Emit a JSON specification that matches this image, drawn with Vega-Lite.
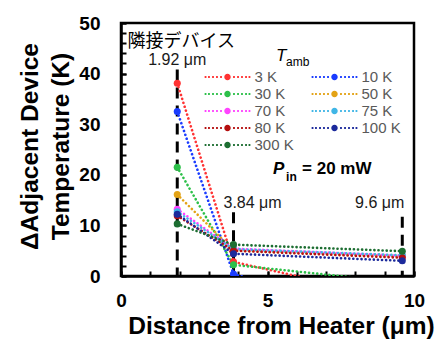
{
  "$schema": "https://vega.github.io/schema/vega-lite/v6.json",
  "width": 293,
  "height": 253,
  "autosize": "none",
  "padding": {"left": 121, "top": 23, "right": 30, "bottom": 65},
  "background": "white",
  "config": {
    "view": {"stroke": null},
    "font": "Liberation Sans",
    "axis": {"labelOverlap": false, "grid": false, "labelFlush": false}
  },
  "resolve": {"axis": {"x": "independent", "y": "independent"}},
  "datasets": {
    "temps": [
      {"T": "3 K", "d": 1.92, "v": 38.1}, {"T": "3 K", "d": 3.84, "v": 2.8}, {"T": "3 K", "d": 9.6, "v": -4.7},
      {"T": "10 K", "d": 1.92, "v": 32.5}, {"T": "10 K", "d": 3.84, "v": 0.4}, {"T": "10 K", "d": 9.6, "v": -8.8},
      {"T": "30 K", "d": 1.92, "v": 21.5}, {"T": "30 K", "d": 3.84, "v": 2.2}, {"T": "30 K", "d": 9.6, "v": -1.3},
      {"T": "50 K", "d": 1.92, "v": 16.1}, {"T": "50 K", "d": 3.84, "v": 5.1}, {"T": "50 K", "d": 9.6, "v": 3.9},
      {"T": "70 K", "d": 1.92, "v": 13.2}, {"T": "70 K", "d": 3.84, "v": 5.4}, {"T": "70 K", "d": 9.6, "v": 4.0},
      {"T": "75 K", "d": 1.92, "v": 12.7}, {"T": "75 K", "d": 3.84, "v": 5.3}, {"T": "75 K", "d": 9.6, "v": 4.1},
      {"T": "80 K", "d": 1.92, "v": 11.9}, {"T": "80 K", "d": 3.84, "v": 5.0}, {"T": "80 K", "d": 9.6, "v": 3.6},
      {"T": "100 K", "d": 1.92, "v": 12.2}, {"T": "100 K", "d": 3.84, "v": 4.4}, {"T": "100 K", "d": 9.6, "v": 3.0},
      {"T": "300 K", "d": 1.92, "v": 10.3}, {"T": "300 K", "d": 3.84, "v": 6.2}, {"T": "300 K", "d": 9.6, "v": 4.9}
    ],
    "markers": [
      {"d": 1.92, "top": 40.8},
      {"d": 3.84, "top": 12.6},
      {"d": 9.6, "top": 11.7}
    ]
  },
  "layer": [
    {
      "data": {"name": "markers"},
      "mark": {"type": "rule", "color": "black", "strokeWidth": 3, "strokeDash": [11, 7]},
      "encoding": {
        "x": {
          "field": "d", "type": "quantitative",
          "scale": {"domain": [0, 10], "nice": false},
          "axis": {
            "orient": "bottom",
            "values": [0, 5, 10],
            "title": "Distance from Heater (μm)",
            "titleFont": "Liberation Sans", "titleFontSize": 24.5, "titleFontWeight": "bold", "titleColor": "black",
            "titleX": 160, "titleY": 57, "titleAlign": "center", "titleBaseline": "alphabetic",
            "labelFont": "Liberation Sans", "labelFontSize": 19, "labelFontWeight": "bold", "labelColor": "black",
            "labelPadding": 20, "labelFlush": false, "labelOverlap": false,
            "tickSize": -5, "tickWidth": 2, "tickColor": "black",
            "domainColor": "black", "domainWidth": 2.5, "grid": false
          }
        },
        "y": {
          "field": "top", "type": "quantitative",
          "scale": {"domain": [0, 50], "nice": false},
          "axis": {
            "orient": "left",
            "values": [0, 10, 20, 30, 40, 50],
            "title": ["ΔAdjacent Device", "Temperature (K)"],
            "titleFont": "Liberation Sans", "titleFontSize": 24.5, "titleFontWeight": "bold", "titleColor": "black",
            "titleLineHeight": 31, "titleAngle": 270,
            "titleX": -84, "titleY": 123, "titleAlign": "center", "titleBaseline": "alphabetic",
            "labelFont": "Liberation Sans", "labelFontSize": 19, "labelFontWeight": "bold", "labelColor": "black",
            "labelPadding": 26, "labelOverlap": false,
            "tickSize": -5, "tickWidth": 2, "tickColor": "black",
            "domainColor": "black", "domainWidth": 2.5, "grid": false
          }
        },
        "y2": {"datum": 0}
      }
    },
    {
      "data": {"values": [{}]},
      "mark": {"type": "rect", "fill": "transparent", "stroke": "black", "strokeWidth": 2.5},
      "encoding": {
        "x": {
          "datum": 0, "type": "quantitative",
          "axis": {
            "orient": "bottom", "values": [0, 1, 2, 3, 4, 5, 6, 7, 8, 9, 10],
            "labels": false, "domain": false, "title": null, "grid": false,
            "tickSize": -5, "tickWidth": 2, "tickColor": "black"
          }
        },
        "x2": {"datum": 10},
        "y": {
          "datum": 0, "type": "quantitative",
          "axis": {
            "orient": "left", "values": [0, 2, 4, 6, 8, 10, 12, 14, 16, 18, 20, 22, 24, 26, 28, 30, 32, 34, 36, 38, 40, 42, 44, 46, 48, 50],
            "labels": false, "domain": false, "title": null, "grid": false,
            "tickSize": -5, "tickWidth": 2, "tickColor": "black"
          }
        },
        "y2": {"datum": 50}
      }
    },
    {
      "data": {"name": "temps"},
      "mark": {"type": "line", "strokeWidth": 2.6, "strokeDash": [0.1, 4], "strokeCap": "round", "clip": true},
      "encoding": {
        "x": {"field": "d", "type": "quantitative", "axis": null},
        "y": {"field": "v", "type": "quantitative", "axis": null},
        "color": {
          "field": "T", "type": "nominal",
          "scale": {
            "domain": ["3 K", "10 K", "30 K", "50 K", "70 K", "75 K", "80 K", "100 K", "300 K"],
            "range": ["#ff3333", "#1a3cff", "#2dc04a", "#e3a316", "#ff44ff", "#40b6e6", "#b51010", "#1c2a9c", "#1d6e32"]
          },
          "legend": {
            "orient": "none", "legendX": 97.5, "legendY": 45, "direction": "horizontal",
            "columns": 2, "title": null, "padding": 0,
            "symbolType": "M -2.54 -0.1 h 0.2 v 0.2 h -0.2 Z M -2.16 -0.1 h 0.2 v 0.2 h -0.2 Z M -1.71 -0.1 h 0.2 v 0.2 h -0.2 Z M -1.27 -0.1 h 0.2 v 0.2 h -0.2 Z M -0.82 -0.1 h 0.2 v 0.2 h -0.2 Z M 0.62 -0.1 h 0.2 v 0.2 h -0.2 Z M 1.07 -0.1 h 0.2 v 0.2 h -0.2 Z M 1.51 -0.1 h 0.2 v 0.2 h -0.2 Z M 1.96 -0.1 h 0.2 v 0.2 h -0.2 Z M 2.34 -0.1 h 0.2 v 0.2 h -0.2 Z M -0.36 0 A 0.36 0.36 0 1 0 0.36 0 A 0.36 0.36 0 1 0 -0.36 0 Z",
            "symbolSize": 324, "symbolStrokeWidth": 0, "symbolOpacity": 1, "symbolDash": [],
            "labelFont": "Liberation Sans", "labelFontSize": 15, "labelColor": "#595959", "labelOffset": 18,
            "columnPadding": 17, "rowPadding": 0,
            "encode": {"symbols": {"update": {"fill": {"scale": "color", "field": "value"}, "strokeWidth": {"value": 0}, "opacity": {"value": 1}}}}
          }
        },
        "detail": {"field": "T"}
      }
    },
    {
      "data": {"name": "temps"},
      "mark": {"type": "point", "filled": true, "size": 50, "opacity": 1, "clip": true},
      "encoding": {
        "x": {"field": "d", "type": "quantitative", "axis": null},
        "y": {"field": "v", "type": "quantitative", "axis": null},
        "color": {"field": "T", "type": "nominal"}
      }
    },
    {
      "data": {"values": [{}]},
      "mark": {"type": "text", "font": "Noto Sans CJK JP", "fontSize": 18, "align": "left", "baseline": "alphabetic", "color": "black"},
      "encoding": {"x": {"datum": 0.22, "axis": null}, "y": {"datum": 45.3, "axis": null}, "text": {"value": "隣接デバイス"}}
    },
    {
      "data": {"values": [{}]},
      "mark": {"type": "text", "fontSize": 17, "fontStyle": "italic", "align": "left", "baseline": "alphabetic", "color": "black"},
      "encoding": {"x": {"datum": 5.29, "axis": null}, "y": {"datum": 42.5, "axis": null}, "text": {"value": "T"}}
    },
    {
      "data": {"values": [{}]},
      "mark": {"type": "text", "fontSize": 12, "align": "left", "baseline": "alphabetic", "color": "black", "dx": 10, "dy": 5},
      "encoding": {"x": {"datum": 5.29, "axis": null}, "y": {"datum": 42.5, "axis": null}, "text": {"value": "amb"}}
    },
    {
      "data": {"values": [{}]},
      "mark": {"type": "text", "fontSize": 17, "fontStyle": "italic", "fontWeight": "bold", "align": "left", "baseline": "alphabetic", "color": "black"},
      "encoding": {"x": {"datum": 5.19, "axis": null}, "y": {"datum": 20.2, "axis": null}, "text": {"value": "P"}}
    },
    {
      "data": {"values": [{}]},
      "mark": {"type": "text", "fontSize": 12, "fontWeight": "bold", "align": "left", "baseline": "alphabetic", "color": "black", "dx": 13, "dy": 7},
      "encoding": {"x": {"datum": 5.19, "axis": null}, "y": {"datum": 20.2, "axis": null}, "text": {"value": "in"}}
    },
    {
      "data": {"values": [{}]},
      "mark": {"type": "text", "fontSize": 17, "fontWeight": "bold", "align": "left", "baseline": "alphabetic", "color": "black", "dx": 29},
      "encoding": {"x": {"datum": 5.19, "axis": null}, "y": {"datum": 20.2, "axis": null}, "text": {"value": "= 20 mW"}}
    },
    {
      "data": {"values": [{}]},
      "mark": {"type": "text", "fontSize": 16, "align": "center", "baseline": "alphabetic", "color": "#1a1a1a"},
      "encoding": {"x": {"datum": 1.92, "axis": null}, "y": {"datum": 41.7, "axis": null}, "text": {"value": "1.92 μm"}}
    },
    {
      "data": {"values": [{}]},
      "mark": {"type": "text", "fontSize": 16, "align": "left", "baseline": "alphabetic", "color": "#1a1a1a", "dx": -10},
      "encoding": {"x": {"datum": 3.84, "axis": null}, "y": {"datum": 13.4, "axis": null}, "text": {"value": "3.84 μm"}}
    },
    {
      "data": {"values": [{}]},
      "mark": {"type": "text", "fontSize": 16, "align": "right", "baseline": "alphabetic", "color": "#1a1a1a", "dx": 2},
      "encoding": {"x": {"datum": 9.6, "axis": null}, "y": {"datum": 13.4, "axis": null}, "text": {"value": "9.6 μm"}}
    }
  ]
}
